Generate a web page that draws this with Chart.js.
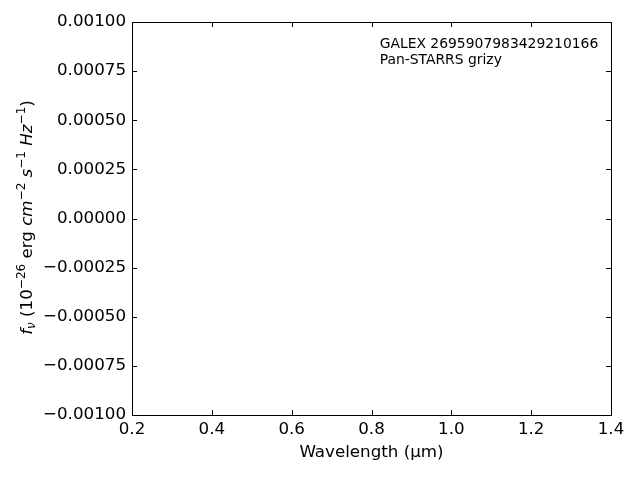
<!DOCTYPE html>
<html lang="en">
<head>
<meta charset="UTF-8">
<title>GALEX SED</title>
<style>
    body { margin: 0; background: #fff; }
    #chartcc { width: 640px; height: 480px; }
</style>
</head>
<body>
<div id="chartcc"><canvas id="sed-chart" width="640" height="480"></canvas></div>
<script src="https://cdn.jsdelivr.net/npm/chart.js"></script>
<script>
    // empty photometry: no points survived for this source
    const wavelengths = [];
    const fluxes = [];
    const xRange = [0.2, 1.4];
    const yRange = [-0.001, 0.001];
    const xStep = 0.2;
    const yStep = 0.00025;
    const noteLines = ['GALEX 2695907983429210166', 'Pan-STARRS grizy'];

    const FONT = 'DejaVu Sans';
    const TICK = 5;

    // matplotlib style box with inward ticks on all four sides
    const frameAndTicks = {
        id: 'frameAndTicks',
        afterDraw(chart) {
            const { ctx, chartArea: a, scales: { x, y } } = chart;
            ctx.save();
            ctx.strokeStyle = '#000';
            ctx.lineWidth = 1;
            ctx.strokeRect(a.left + 0.5, a.top + 0.5, a.right - a.left, a.bottom - a.top);
            ctx.beginPath();
            x.ticks.forEach(t => {
                const px = Math.round(x.getPixelForValue(t.value)) + 0.5;
                ctx.moveTo(px, a.bottom); ctx.lineTo(px, a.bottom - TICK);
                ctx.moveTo(px, a.top); ctx.lineTo(px, a.top + TICK);
            });
            y.ticks.forEach(t => {
                const py = Math.round(y.getPixelForValue(t.value)) + 0.5;
                ctx.moveTo(a.left, py); ctx.lineTo(a.left + TICK, py);
                ctx.moveTo(a.right, py); ctx.lineTo(a.right - TICK, py);
            });
            ctx.stroke();

            // note in the upper right
            ctx.fillStyle = '#000';
            ctx.font = '13.9px "' + FONT + '"';
            ctx.textAlign = 'left';
            ctx.textBaseline = 'alphabetic';
            const nx = a.left + (a.right - a.left) * 0.517;
            noteLines.forEach((s, i) => ctx.fillText(s, nx, a.top + 26 + i * 15.5));

            // y title with italics and superscripts
            const parts = [
                ['f', 'italic', 16.7, 0], ['ν', 'italic', 12, 3],
                [' (10', '', 16.7, 0], ['−26', '', 12, -7],
                [' erg ', '', 16.7, 0], ['cm', 'italic', 16.7, 0], ['−2', '', 12, -7],
                [' ', '', 16.7, 0], ['s', 'italic', 16.7, 0], ['−1', '', 12, -7],
                [' ', '', 16.7, 0], ['Hz', 'italic', 16.7, 0], ['−1', '', 12, -7],
                [')', '', 16.7, 0]
            ];
            const fontOf = p => (p[1] ? p[1] + ' ' : '') + p[2] + 'px "' + FONT + '"';
            let total = 0;
            parts.forEach(p => { ctx.font = fontOf(p); total += ctx.measureText(p[0]).width; });
            ctx.translate(32, (a.top + a.bottom) / 2 - 1);
            ctx.rotate(-Math.PI / 2);
            let cx = -total / 2;
            parts.forEach(p => {
                ctx.font = fontOf(p);
                ctx.fillText(p[0], cx, p[3]);
                cx += ctx.measureText(p[0]).width;
            });
            ctx.restore();
        }
    };

    const ctx = document.getElementById('sed-chart').getContext('2d');
    const sedChart = new Chart(ctx, {
        type: 'scatter',
        data: {
            datasets: [{
                label: 'photometry',
                data: wavelengths.map((w, i) => ({ x: w, y: fluxes[i] })),
                backgroundColor: '#1f77b4'
            }]
        },
        options: {
            responsive: false,
            animation: false,
            layout: { padding: { left: 0, top: 22, right: 29, bottom: 17 } },
            plugins: { legend: { display: false }, tooltip: { enabled: false } },
            scales: {
                x: {
                    type: 'linear',
                    min: xRange[0], max: xRange[1],
                    border: { display: false },
                    grid: { display: false, drawTicks: false },
                    ticks: {
                        stepSize: xStep,
                        padding: 5,
                        color: '#000',
                        font: { family: FONT, size: 16.7 },
                        callback: v => v.toFixed(1)
                    },
                    title: {
                        display: true,
                        text: 'Wavelength (μm)',
                        color: '#000',
                        font: { family: FONT, size: 16.7 },
                        padding: { top: 4, bottom: 0 }
                    },
                    afterFit: s => { s.height = 48; }
                },
                y: {
                    type: 'linear',
                    min: yRange[0], max: yRange[1],
                    border: { display: false },
                    grid: { display: false, drawTicks: false },
                    ticks: {
                        stepSize: yStep,
                        padding: 6,
                        color: '#000',
                        font: { family: FONT, size: 16.7 },
                        callback: v => (v < 0 ? '−' : '') + Math.abs(v).toFixed(5)
                    },
                    afterFit: s => { s.width = 132; }
                }
            }
        },
        plugins: [frameAndTicks]
    });
</script>
</body>
</html>
